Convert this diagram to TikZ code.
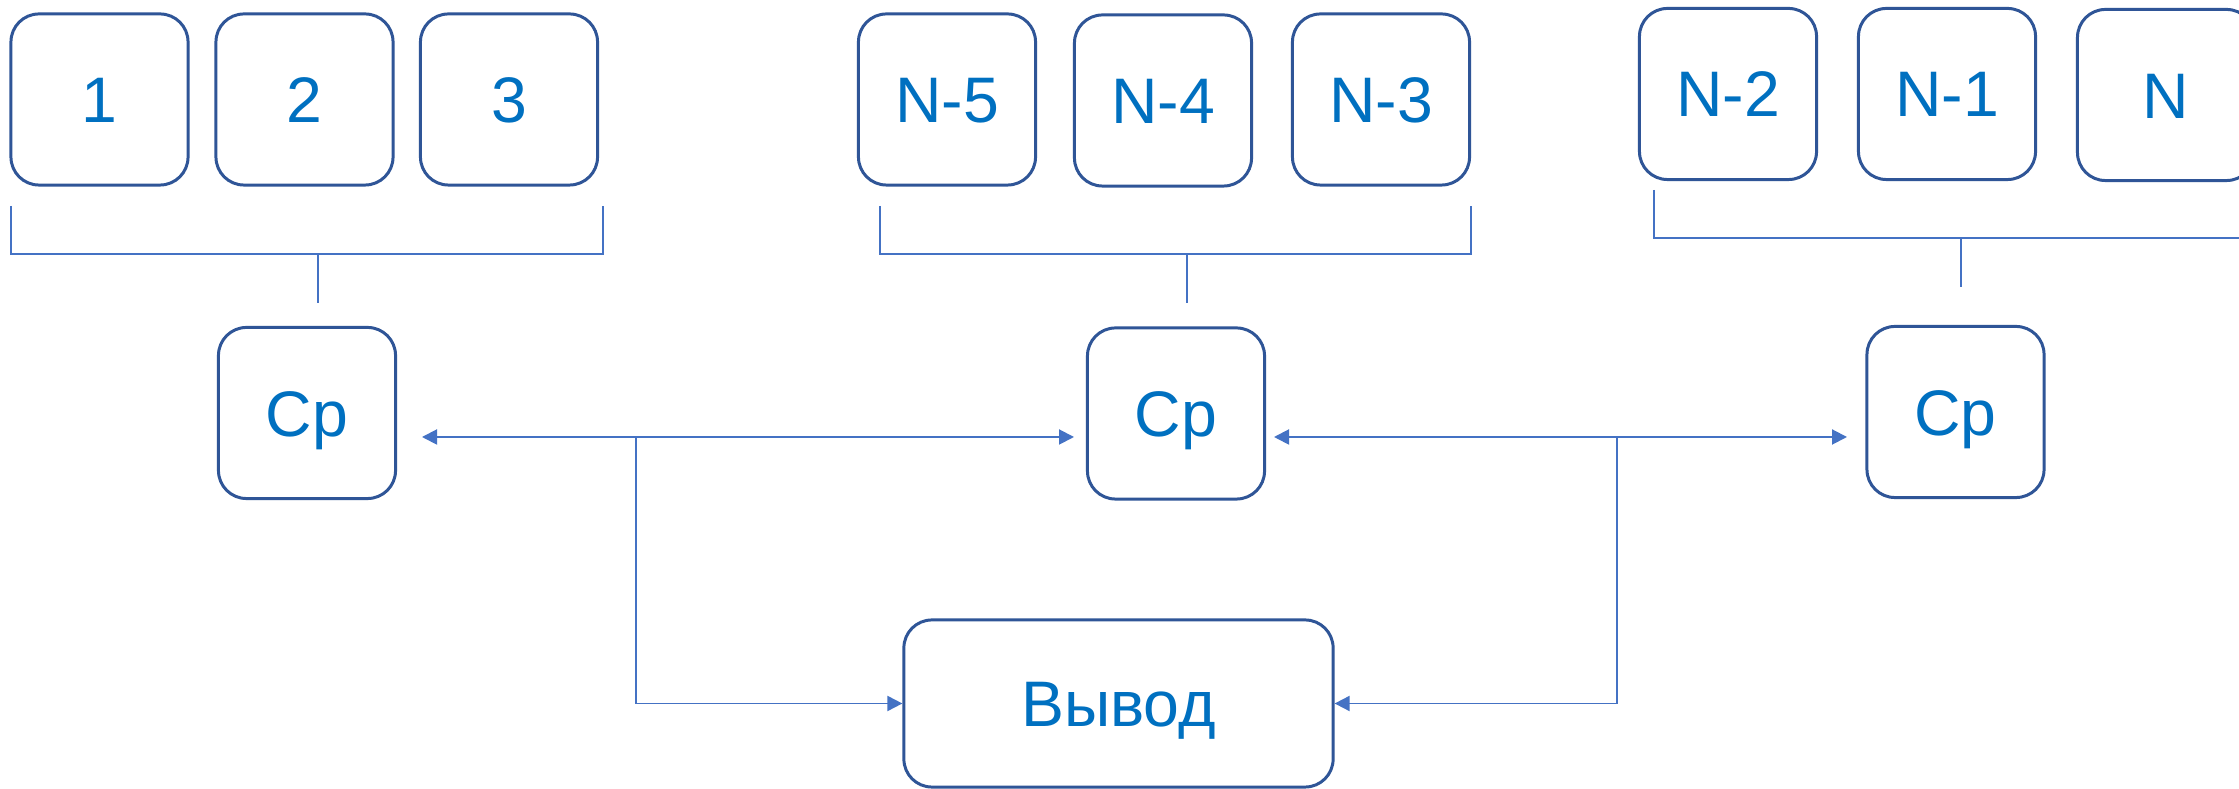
\documentclass[tikz,border=0pt]{standalone}
\usepackage{fontspec}
\setmainfont{Liberation Sans}
\usetikzlibrary{arrows.meta}
\definecolor{txtblue}{HTML}{0070C0}
\definecolor{boxblue}{HTML}{2F5597}
\definecolor{lineblue}{HTML}{4472C4}
\begin{document}
\begin{tikzpicture}[x=0.01cm,y=-0.01cm,
  box/.style={draw=boxblue, line width=0.85pt, rounded corners=0.28cm, fill=white,
    minimum width=1.77cm, minimum height=1.71cm, inner sep=0pt,
    text=txtblue, font=\fontsize{18.3}{22}\selectfont, text height=0.46cm, text depth=0cm},
  conn/.style={draw=lineblue, line width=0.55pt},
  tip/.style={-{Triangle[length=0.15cm,width=0.15cm]}},
  bitip/.style={{Triangle[length=0.15cm,width=0.15cm]}-{Triangle[length=0.15cm,width=0.15cm]}}
]
\fill[white] (0,0) rectangle (2239,789);
\useasboundingbox (0,0) rectangle (2239,789);

% top row
\node[box] (b1) at (99.5,99.5) {1};
\node[box] (b2) at (304.5,99.5) {2};
\node[box] (b3) at (509,99.5) {3};
\node[box] (b4) at (947,99.5) {N-5};
\node[box] (b5) at (1163,100.5) {N-4};
\node[box] (b6) at (1381,99.5) {N-3};
\node[box] (b7) at (1728,94) {N-2};
\node[box] (b8) at (1947,94) {N-1};
\node[box] (b9) at (2166,95) {N};

% averaging nodes
\node[box] (c1) at (307,413) {Cp};
\node[box] (c2) at (1176,413.5) {Cp};
\node[box] (c3) at (1955.5,412) {Cp};

% output
\node[box, minimum width=4.29cm, minimum height=1.67cm] (out) at (1118.5,703.5) {Вывод};

% bracket coordinates
\coordinate (l1a) at (11,206);   \coordinate (l1b) at (11,254);
\coordinate (r1a) at (603,206);  \coordinate (r1b) at (603,254);
\coordinate (s1a) at (318,254);  \coordinate (s1b) at (318,303);
\coordinate (l2a) at (880,206);  \coordinate (l2b) at (880,254);
\coordinate (r2a) at (1471,206); \coordinate (r2b) at (1471,254);
\coordinate (s2a) at (1187,254); \coordinate (s2b) at (1187,303);
\coordinate (l3a) at (1654,190); \coordinate (l3b) at (1654,238);
\coordinate (r3b) at (2245,238);
\coordinate (s3a) at (1961,238); \coordinate (s3b) at (1961,287);

\draw[conn] (l1a) -- (l1b) -- (r1b) -- (r1a);
\draw[conn] (s1a) -- (s1b);
\draw[conn] (l2a) -- (l2b) -- (r2b) -- (r2a);
\draw[conn] (s2a) -- (s2b);
\draw[conn] (l3a) -- (l3b) -- (r3b);
\draw[conn] (s3a) -- (s3b);

% horizontal double arrows
\coordinate (a1l) at (422,437);  \coordinate (a1r) at (1074,437);
\coordinate (a2l) at (1274,437); \coordinate (a2r) at (1847,437);
\coordinate (j1) at (636,437);   \coordinate (j2) at (1617,437);
\draw[conn, bitip] (a1l) -- (a1r);
\draw[conn, bitip] (a2l) -- (a2r);

% to output
\draw[conn, tip] (j1) |- (out.west);
\draw[conn, tip] (j2) |- (out.east);
\end{tikzpicture}
\end{document}
